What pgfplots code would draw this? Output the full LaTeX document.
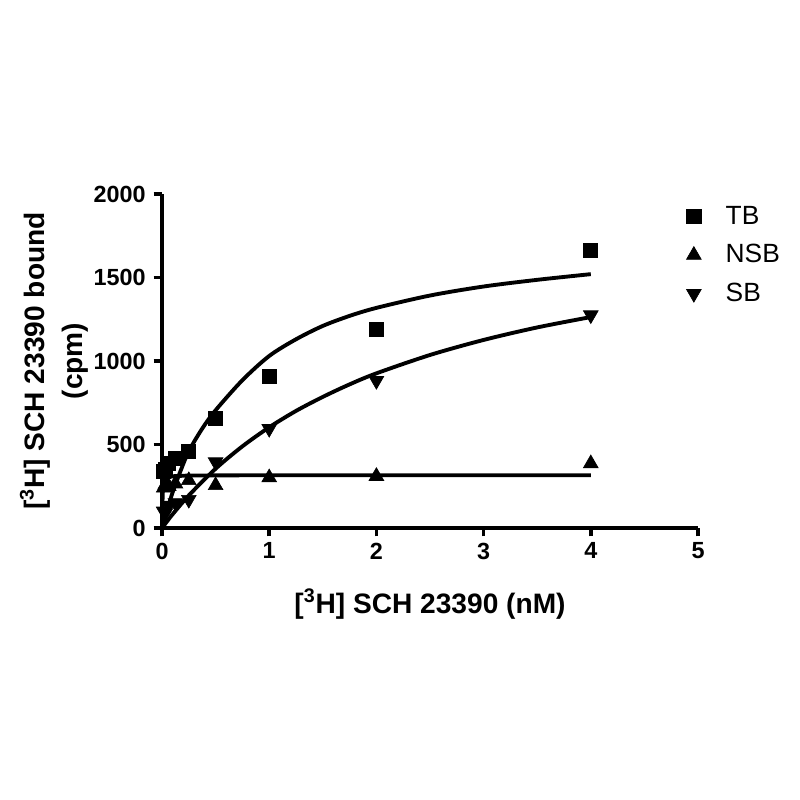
\documentclass[border=0pt]{standalone}
\usepackage{pgfplots}
\pgfplotsset{compat=1.18}
\usepackage{fontspec}
\setmainfont{Liberation Sans}
\begin{document}
\begin{tikzpicture}
\path[use as bounding box] (0,0) rectangle (16cm,16cm);
\begin{axis}[
  at={(3.24cm,5.44cm)}, anchor=south west,
  scale only axis, width=10.72cm, height=6.68cm,
  xmin=0, xmax=5, ymin=0, ymax=2000,
  axis lines=left, axis line style={-, line width=2.2pt},
  xtick={0,1,2,3,4,5}, ytick={0,500,1000,1500,2000},
  tick align=outside, major tick length=0.17cm,
  tick style={line width=2pt, black},
  /pgf/number format/assume math mode=true,
  /pgf/number format/1000 sep={},
  tick label style={font=\fontsize{13.3}{16}\selectfont\bfseries},
  yticklabel style={xshift=-1pt},
  xlabel={[\textsuperscript{3}H] SCH 23390 (nM)},
  ylabel={[\textsuperscript{3}H] SCH 23390 bound\\(cpm)},
  xlabel style={at={([yshift=-1.52cm]axis description cs:0.5,0)}, anchor=center, font=\fontsize{16}{19}\selectfont\bfseries},
  ylabel style={at={([xshift=-2.16cm]axis description cs:0,0.5)}, anchor=center, align=center, font=\fontsize{16}{21.5}\selectfont\bfseries},
  clip=false,
  legend style={draw=none, fill=none, at={(0.978,0.975)}, anchor=north west,
    font=\fontsize{15}{18}\selectfont, row sep=6pt, column sep=0.42cm, inner sep=0pt},
  legend cell align=left,
]
\addplot[only marks, mark=square*, mark size=4pt, black] coordinates {
(0.0156,340) (0.03125,350) (0.0625,385) (0.125,415) (0.25,460) (0.5,655) (1,910) (2,1192) (4,1665)};
\addlegendentry{TB}
\addplot[only marks, mark=triangle*, mark size=4.8pt, black] coordinates {
(0.0156,240) (0.03125,260) (0.0625,250) (0.125,265) (0.25,285) (0.5,255) (1,302) (2,310) (4,386)};
\addlegendentry{NSB}
\addplot[only marks, mark=triangle*, mark size=4.8pt, black, mark options={rotate=180}] coordinates {
(0.0156,100) (0.03125,90) (0.0625,135) (0.125,150) (0.25,170) (0.5,395) (1,595) (2,882) (4,1275)};
\addlegendentry{SB}
\addplot[forget plot, black, line width=2.2pt, smooth] coordinates {
(0,0) (0.05,110) (0.1,215) (0.175,345) (0.25,460) (0.375,595) (0.5,705) (0.75,885) (1,1030) (1.25,1130) (1.5,1210) (1.75,1270) (2,1318) (2.5,1392) (3,1446) (3.5,1486) (4,1520)};
\addplot[forget plot, black, line width=2.2pt, smooth] coordinates {
(0,0) (0.05,42) (0.1,83) (0.25,195) (0.5,355) (0.75,489) (1,603) (1.25,701) (1.5,785) (1.75,860) (2,926) (2.5,1036) (3,1126) (3.5,1201) (4,1263)};
\addplot[forget plot, black, line width=2.2pt] coordinates {
(0,0) (0.004,150) (0.008,220) (0.015,265) (0.03,292) (0.06,305) (0.12,311) (0.25,314) (0.5,315) (1,316) (2,316) (4,316)};
\end{axis}
\end{tikzpicture}
\end{document}
